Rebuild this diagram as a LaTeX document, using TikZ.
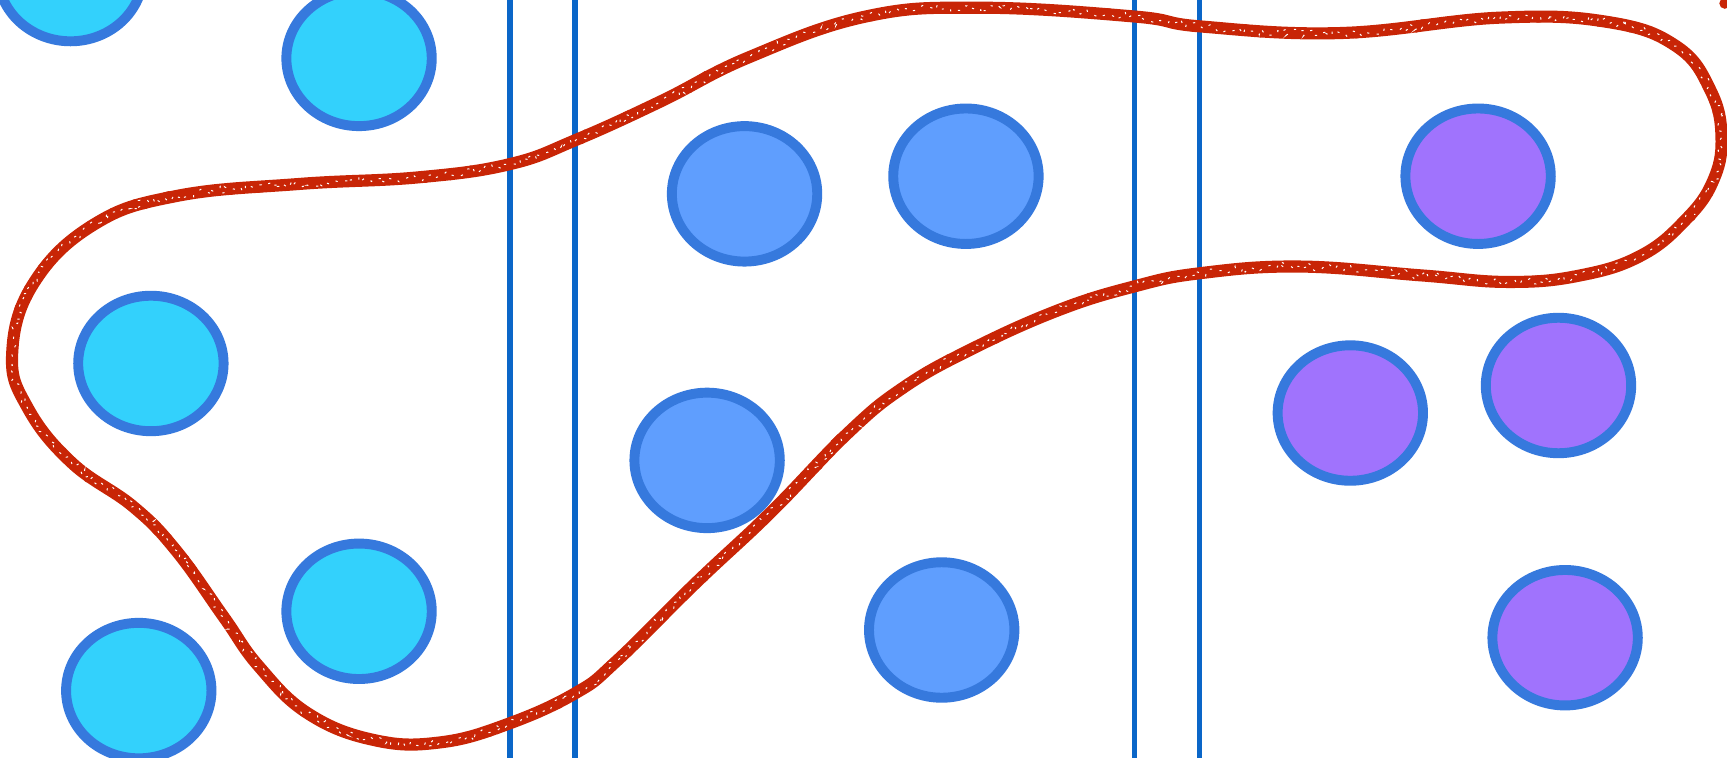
\documentclass[tikz,border=0pt]{standalone}
\usetikzlibrary{shapes.geometric,decorations.pathmorphing}
\definecolor{cyanfill}{HTML}{33D1FC}
\definecolor{bluefill}{HTML}{5F9EFE}
\definecolor{purplefill}{HTML}{A073FD}
\definecolor{ballborder}{HTML}{3679DD}
\definecolor{sepline}{HTML}{0A66C8}
\definecolor{crayon}{HTML}{C82506}
\tikzset{
  ball/.style={ellipse, draw=ballborder, line width=9pt, minimum width=132pt, minimum height=123pt, inner sep=0pt},
  cyanball/.style={ball, fill=cyanfill},
  blueball/.style={ball, fill=bluefill},
  purpleball/.style={ball, fill=purplefill},
  sepstyle/.style={draw=sepline, line width=5pt},
  crayonmain/.style={draw=crayon, line width=11pt, line join=round},
  crayonrough/.style={draw=crayon, line width=3.5pt, line join=round, decorate, decoration={random steps, segment length=3.5pt, amplitude=4pt}},
  crayonfleck/.style={draw=white, line width=0.9pt, dash pattern=on 2pt off 7pt, decorate, decoration={random steps, segment length=3pt, amplitude=3.5pt}}
}
\begin{document}
\begin{tikzpicture}[x=1pt,y=-1pt]
\useasboundingbox (0,0) rectangle (1568,688);
\clip (0,0) rectangle (1568,688);
\fill[white] (0,0) rectangle (1568,688);
% separator lines
\coordinate (s1t) at (463,-10); \coordinate (s1b) at (463,700);
\coordinate (s2t) at (522,-10); \coordinate (s2b) at (522,700);
\coordinate (s3t) at (1030,-10); \coordinate (s3b) at (1030,700);
\coordinate (s4t) at (1089,-10); \coordinate (s4b) at (1089,700);
\draw[sepstyle] (s1t) -- (s1b);
\draw[sepstyle] (s2t) -- (s2b);
\draw[sepstyle] (s3t) -- (s3b);
\draw[sepstyle] (s4t) -- (s4b);
% balls
\node[cyanball] (c1) at (64,-24) {};
\node[cyanball] (c2) at (326,53) {};
\node[cyanball] (c3) at (137,330) {};
\node[cyanball] (c4) at (326,555) {};
\node[cyanball] (c5) at (126,627) {};
\node[blueball] (b1) at (676,176) {};
\node[blueball] (b2) at (877,160) {};
\node[blueball] (b3) at (642,418) {};
\node[blueball] (b4) at (855,572) {};
\node[purpleball] (p1) at (1342,160) {};
\node[purpleball] (p2) at (1226,375) {};
\node[purpleball] (p3) at (1415,350) {};
\node[purpleball] (p4) at (1421,579) {};
% crayon loop
\def\looppts{(11,322) (30,258) (85,204) (160,178) (272,167) (380,161) (463,149) (523,127) (600,92) (680,52) (786,15) (890,7) (1030,15) (1090,24) (1217,30) (1362,16) (1460,20) (1522,42) (1553,82) (1563,125) (1555,165) (1530,200) (1490,232) (1435,250) (1370,256) (1290,250) (1180,242) (1090,248) (1030,260) (960,282) (880,318) (820,352) (770,393) (700,465) (632,529) (560,600) (523,629) (462,657) (400,674) (340,672) (280,648) (235,605) (203,560) (160,500) (121,460) (65,420) (25,370)}
\draw[crayonmain] plot[smooth cycle, tension=0.7] coordinates {\looppts};
\pgfmathsetseed{7}
\draw[crayonrough] plot[smooth cycle, tension=0.7] coordinates {\looppts};
\draw[crayonfleck] plot[smooth cycle, tension=0.7] coordinates {\looppts};
% corner mark
\fill[crayon] (1566,3) circle (5);
\end{tikzpicture}
\end{document}
